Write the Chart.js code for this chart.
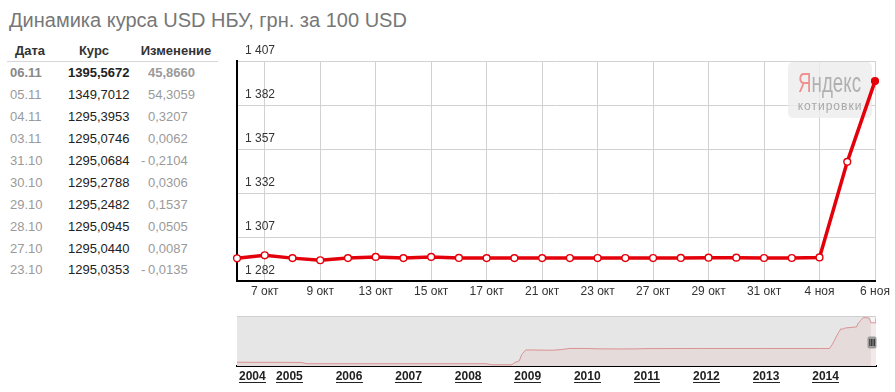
<!DOCTYPE html>
<html>
<head>
<meta charset="utf-8">
<script src="https://cdn.jsdelivr.net/npm/chart.js@4.4.1/dist/chart.umd.min.js"></script>
<style>
  body { margin: 0; background: #fff; width: 895px; height: 392px; overflow: hidden; position: relative;
         font-family: Arial, "Liberation Sans", sans-serif; }
  #title { position: absolute; left: 9px; top: 10px; font-size: 20px; line-height: 20px; color: #777; white-space: nowrap; }
  #table div { position: absolute; height: 22px; line-height: 22px; font-size: 13px; white-space: nowrap; }
  #table .hd { font-weight: bold; color: #333; text-align: center; }
  #table .sep { height: 1px; background: #d8d8d8; }
  #main { position: absolute; left: 230px; top: 40px; }
  #nav { position: absolute; left: 230px; top: 305px; }
</style>
</head>
<body>
<div id="title">Динамика курса USD НБУ, грн. за 100 USD</div>
<div id="table"></div>
<canvas id="main" width="665" height="270"></canvas>
<canvas id="nav" width="665" height="87"></canvas>
<script>
// main chart: one point per working day
const dayLabels = ['6 окт', '7 окт', '8 окт', '9 окт', '10 окт', '13 окт', '14 окт', '15 окт',
  '16 окт', '17 окт', '20 окт', '21 окт', '22 окт', '23 окт', '24 окт', '27 окт', '28 окт',
  '29 окт', '30 окт', '31 окт', '3 ноя', '4 ноя', '5 ноя', '6 ноя'];
const rateValues = [1294.9, 1296.6, 1295.0, 1293.8, 1295.0, 1295.7, 1295.0, 1295.7,
  1295.1, 1295.0, 1295.0, 1295.0, 1295.0488, 1295.0353, 1295.04, 1295.0440, 1295.0945,
  1295.2482, 1295.2788, 1295.0684, 1295.0746, 1295.3953, 1349.7012, 1395.5672];
const yMin = 1282;
const yMax = 1407;
const yStep = 25;

// table on the left
const tableDates = ['06.11', '05.11', '04.11', '03.11', '31.10', '30.10', '29.10', '28.10', '27.10', '23.10'];
const tableRates = [1395.5672, 1349.7012, 1295.3953, 1295.0746, 1295.0684, 1295.2788, 1295.2482, 1295.0945, 1295.0440, 1295.0353];
const tableChanges = [45.8660, 54.3059, 0.3207, 0.0062, -0.2104, 0.0306, 0.1537, 0.0505, 0.0087, -0.0135];

// navigator: whole history 2004-2014
const navDates = ['2004-02-14', '2004-06-01', '2004-12-01', '2005-03-15', '2005-04-20', '2005-12-01',
  '2006-12-01', '2007-12-01', '2008-04-20', '2008-05-25', '2008-09-25', '2008-10-15', '2008-11-10',
  '2008-11-25', '2008-12-20', '2009-02-01', '2009-06-01', '2009-08-01', '2009-09-15', '2010-01-01',
  '2010-03-01', '2010-08-01', '2010-11-01', '2011-01-15', '2011-12-01', '2012-12-01', '2013-12-01',
  '2014-01-25', '2014-02-10', '2014-02-25', '2014-03-20', '2014-04-05', '2014-04-15', '2014-05-01',
  '2014-07-10', '2014-07-20', '2014-08-10', '2014-08-20', '2014-09-15', '2014-09-25', '2014-10-06',
  '2014-10-31', '2014-11-04', '2014-11-05', '2014-11-06'];
const navValues = [533, 532, 531, 529, 505, 505,
  505, 505, 505, 485, 485, 530, 560,
  680, 770, 770, 765, 780, 800, 799,
  793, 790, 792, 797, 799, 799, 799,
  799, 870, 960, 1100, 1180, 1170, 1195,
  1215, 1290, 1355, 1395, 1390, 1380, 1295,
  1295, 1295, 1350, 1396];
const navYears = [2004, 2005, 2006, 2007, 2008, 2009, 2010, 2011, 2012, 2013, 2014];
const selStart = '2014-10-06';
const selEnd = '2014-11-06';

Chart.defaults.font.family = 'Arial, "Liberation Sans", sans-serif';
Chart.defaults.color = '#333';

const RED = '#e4000b';

function fmtThousands(v) {
  return String(v).replace(/\B(?=(\d{3})+(?!\d))/g, ' ');
}
function fmtComma(v) {
  return Math.abs(v).toFixed(4).replace('.', ',');
}
function toYear(s) {
  const d = new Date(s + 'T00:00:00Z');
  const y = d.getUTCFullYear();
  const a = Date.UTC(y, 0, 1), b = Date.UTC(y + 1, 0, 1);
  return y + (d.getTime() - a) / (b - a);
}

// build the table
(function buildTable() {
  const box = document.getElementById('table');
  const add = (text, css, cls) => {
    const el = document.createElement('div');
    el.textContent = text;
    if (cls) el.className = cls;
    Object.assign(el.style, css);
    box.appendChild(el);
    return el;
  };
  add('Дата', { left: '8px', width: '44px', top: '40px' }, 'hd');
  add('Курс', { left: '72px', width: '44px', top: '40px' }, 'hd');
  add('Изменение', { left: '136px', width: '80px', top: '40px' }, 'hd');
  add('', { left: '7px', width: '211px', top: '61px' }, 'sep');
  tableDates.forEach((d, i) => {
    const top = (62.3 + i * 21.9) + 'px';
    const bold = i === 0 ? 'bold' : 'normal';
    add(d, { left: '10px', top, color: i === 0 ? '#888' : '#9a9a9a', fontWeight: bold });
    add(fmtComma(tableRates[i]), { left: '68px', top, color: '#222', fontWeight: bold });
    const c = tableChanges[i];
    add(fmtComma(c), { left: '148px', top, color: '#9a9a9a', fontWeight: bold });
    if (c < 0) add('-', { left: '141px', top, color: '#9a9a9a' });
  });
})();

// Yandex badge in the top right corner of the plot
const logoPlugin = {
  id: 'logo',
  beforeDatasetsDraw(chart) {
    const { ctx, chartArea: a } = chart;
    const w = 84, h = 56;
    const x = a.right - w - 3, y = a.top + 1;
    ctx.save();
    ctx.fillStyle = 'rgba(236,236,236,0.8)';
    ctx.beginPath();
    ctx.roundRect(x, y, w, h, 5);
    ctx.fill();
    ctx.font = '28px Arial, "Liberation Sans", sans-serif';
    const wYa = ctx.measureText('Я').width;
    const wAll = ctx.measureText('Яндекс').width;
    ctx.translate(x + 10, y + 29.5);
    ctx.scale(63 / wAll, 1);
    ctx.fillStyle = '#f09090';
    ctx.fillText('Я', 0, 0);
    ctx.fillStyle = '#b0b0b0';
    ctx.fillText('ндекс', wYa, 0);
    ctx.restore();
    ctx.save();
    ctx.font = '12px Arial, "Liberation Sans", sans-serif';
    ctx.letterSpacing = '1px';
    ctx.fillStyle = '#a8a8a8';
    ctx.textAlign = 'center';
    ctx.fillText('котировки', x + w / 2, y + 47.5);
    ctx.restore();
  }
};

new Chart(document.getElementById('main'), {
  type: 'line',
  data: {
    labels: dayLabels,
    datasets: [{
      data: rateValues,
      borderColor: RED,
      borderWidth: 3.5,
      tension: 0,
      pointRadius: 3.4,
      pointBorderWidth: 1.4,
      pointBorderColor: RED,
      pointBackgroundColor: rateValues.map((v, i) => i === rateValues.length - 1 ? RED : '#fff')
    }]
  },
  options: {
    responsive: false,
    animation: false,
    events: [],
    layout: { padding: { left: 7, right: 20, top: 21, bottom: 0 } },
    plugins: { legend: { display: false }, tooltip: { enabled: false } },
    scales: {
      x: {
        offset: false,
        grid: {
          drawTicks: false,
          color: ctx => (ctx.index % 2 ? '#d2d2d2' : 'rgba(0,0,0,0)')
        },
        border: { color: '#000', width: 2 },
        ticks: {
          autoSkip: false,
          maxRotation: 0,
          padding: 3,
          font: { size: 12 },
          color: '#333',
          callback: (v, i) => (i % 2 ? dayLabels[i] : '')
        },
        afterFit: s => { s.height = 29; }
      },
      y: {
        min: yMin,
        max: yMax,
        grid: { drawTicks: false, color: '#d2d2d2' },
        border: { color: '#000', width: 2 },
        ticks: {
          stepSize: yStep,
          mirror: true,
          padding: 8,
          labelOffset: -10,
          font: { size: 12 },
          color: '#333',
          callback: v => fmtThousands(v)
        },
        afterFit: s => { s.width = 0; }
      }
    }
  },
  plugins: [logoPlugin]
});

// navigator background, handle and underlined year labels
const navPlugin = {
  id: 'navDecor',
  beforeDatasetsDraw(chart) {
    const { ctx, chartArea: a, scales: { x } } = chart;
    const s = x.getPixelForValue(toYear(selStart));
    const e = x.getPixelForValue(toYear(selEnd));
    ctx.save();
    ctx.fillStyle = '#e6e6e6';
    ctx.fillRect(a.left, a.top, s - a.left, a.bottom - a.top);
    ctx.fillStyle = '#f6f6f6';
    ctx.fillRect(s, a.top, e - s, a.bottom - a.top);
    ctx.strokeStyle = '#cfcfcf';
    ctx.lineWidth = 1;
    ctx.beginPath();
    ctx.moveTo(a.left, a.top + 0.5);
    ctx.lineTo(a.right, a.top + 0.5);
    ctx.stroke();
    ctx.restore();
  },
  afterDraw(chart) {
    const { ctx, chartArea: a, scales: { x } } = chart;
    ctx.save();
    // handle
    const hx = x.getPixelForValue(toYear(selEnd)) - 8.5;
    const hy = (a.top + a.bottom) / 2 - 4.5;
    ctx.fillStyle = '#9c9c9c';
    ctx.beginPath();
    ctx.roundRect(hx, hy, 9, 12, 2);
    ctx.fill();
    ctx.fillStyle = '#333';
    for (let k = 0; k < 4; k++) ctx.fillRect(hx + 1.8 + k * 1.6, hy + 2.5, 1, 7);
    // year labels
    ctx.font = 'bold 12px Arial, "Liberation Sans", sans-serif';
    ctx.fillStyle = '#222';
    ctx.textBaseline = 'alphabetic';
    ctx.textAlign = 'center';
    navYears.forEach(yr => {
      const w = ctx.measureText(String(yr)).width;
      const cx = Math.max(x.getPixelForValue(yr), a.left + w / 2 + 2);
      ctx.fillText(String(yr), cx, 75);
      ctx.fillRect(Math.round(cx - w / 2), 77, Math.round(w), 1);
    });
    ctx.restore();
  }
};

new Chart(document.getElementById('nav'), {
  type: 'line',
  data: {
    datasets: [{
      data: navDates.map((d, i) => ({ x: toYear(d), y: navValues[i] })),
      borderColor: 'rgba(215,120,120,0.75)',
      borderWidth: 1,
      backgroundColor: 'rgba(235,90,90,0.08)',
      fill: 'start',
      pointRadius: 0,
      tension: 0
    }]
  },
  options: {
    responsive: false,
    animation: false,
    events: [],
    layout: { padding: { left: 7, right: 19, top: 11, bottom: 0 } },
    plugins: { legend: { display: false }, tooltip: { enabled: false } },
    scales: {
      x: {
        type: 'linear',
        min: toYear(navDates[0]),
        max: toYear(navDates[navDates.length - 1]),
        grid: { display: false },
        ticks: { display: false },
        border: { color: '#000', width: 2 },
        afterFit: s => { s.height = 26; }
      },
      y: { display: false, min: 461, max: 1426 }
    }
  },
  plugins: [navPlugin]
});
</script>
</body>
</html>
